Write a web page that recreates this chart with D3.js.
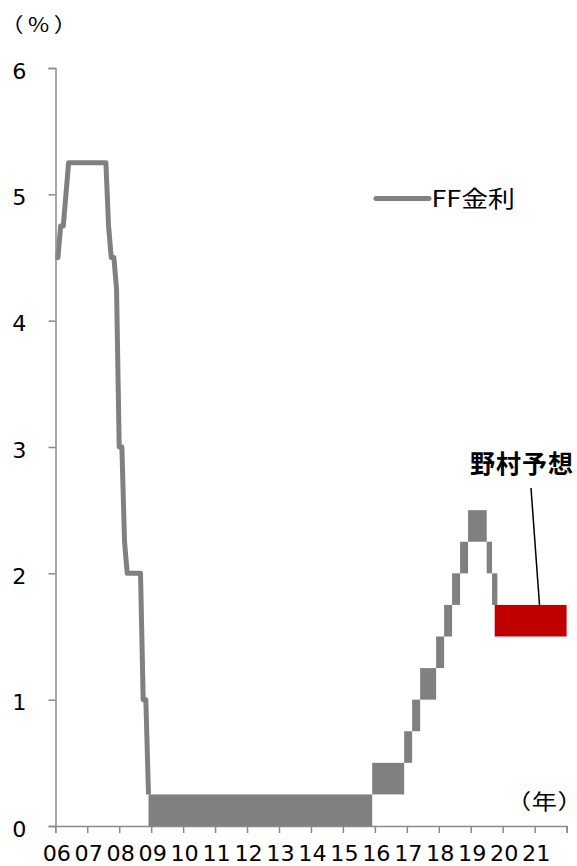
<!DOCTYPE html>
<html>
<head>
<meta charset="utf-8">
<script src="https://cdn.jsdelivr.net/npm/d3@7/dist/d3.min.js"></script>
<style>
  html, body { margin: 0; padding: 0; background: #fff; }
  svg { display: block; }
  text { font-family: "Noto Sans CJK JP", "Noto Sans", sans-serif; fill: #000; }
  .half { font-feature-settings: "halt" 1; }
</style>
</head>
<body>
<svg id="chart" width="577" height="866"></svg>
<script>
// FF target rate (upper bound), month-end, 2006-2008
const lineMonths = [
  "2006-01","2006-02","2006-03","2006-04","2006-05","2006-06","2006-07","2006-08","2006-09","2006-10","2006-11","2006-12",
  "2007-01","2007-02","2007-03","2007-04","2007-05","2007-06","2007-07","2007-08","2007-09","2007-10","2007-11","2007-12",
  "2008-01","2008-02","2008-03","2008-04","2008-05","2008-06","2008-07","2008-08","2008-09","2008-10","2008-11","2008-12"
];
const lineValues = [
  4.5, 4.5, 4.75, 4.75, 5.0, 5.25, 5.25, 5.25, 5.25, 5.25, 5.25, 5.25,
  5.25, 5.25, 5.25, 5.25, 5.25, 5.25, 5.25, 5.25, 4.75, 4.5, 4.5, 4.25,
  3.0, 3.0, 2.25, 2.0, 2.0, 2.0, 2.0, 2.0, 2.0, 1.0, 1.0, 0.25
];

// Target range periods (from month, until month)
const rangeStart = ["2008-12","2015-12","2016-12","2017-03","2017-06","2017-12","2018-03","2018-06","2018-09","2018-12","2019-07","2019-09"];
const rangeEnd   = ["2015-12","2016-12","2017-03","2017-06","2017-12","2018-03","2018-06","2018-09","2018-12","2019-07","2019-09","2019-11"];
const rangeLow   = [0, 0.25, 0.5, 0.75, 1.0, 1.25, 1.5, 1.75, 2.0, 2.25, 2.0, 1.75];
const rangeHigh  = [0.25, 0.5, 0.75, 1.0, 1.25, 1.5, 1.75, 2.0, 2.25, 2.5, 2.25, 2.0];

// Nomura forecast range
const forecastStart = "2019-10";
const forecastEnd   = "2022-01";
const forecastLow   = 1.5;
const forecastHigh  = 1.75;

// Axis ticks
const yearTicks = d3.range(2006, 2023);
const yearLabels = ["06","07","08","09","10","11","12","13","14","15","16","17","18","19","20","21",""];
const yTicks = [0, 1, 2, 3, 4, 5, 6];

const toYear = s => { const [y, m] = s.split("-").map(Number); return y + (m - 1) / 12; };

const svg = d3.select("#chart");
const x = d3.scaleLinear().domain([2006, 2022]).range([55.3, 566.6]);
const y = d3.scaleLinear().domain([0, 6]).range([826, 68]);

const GRAY = "#808080";
const AXIS = "#8a8a8a";
const WIDE = 1.15;            // horizontal stretch of the label type
const DIGITS = "'DejaVu Sans', sans-serif";

// target range blocks
const ranges = rangeStart.map((s, i) => ({ s: toYear(s), e: toYear(rangeEnd[i]), lo: rangeLow[i], hi: rangeHigh[i] }));
svg.append("g").selectAll("rect").data(ranges).join("rect")
  .attr("x", d => x(d.s))
  .attr("width", d => x(d.e) - x(d.s))
  .attr("y", d => y(d.hi))
  .attr("height", d => y(d.lo) - y(d.hi))
  .attr("fill", GRAY);

// forecast block
svg.append("rect")
  .attr("x", x(toYear(forecastStart)))
  .attr("width", x(toYear(forecastEnd)) - x(toYear(forecastStart)))
  .attr("y", y(forecastHigh))
  .attr("height", y(forecastLow) - y(forecastHigh))
  .attr("fill", "#c00000");

// FF rate line
const linePts = lineMonths.map((m, i) => [toYear(m), lineValues[i]]);
svg.append("path")
  .datum(linePts)
  .attr("fill", "none")
  .attr("stroke", GRAY)
  .attr("stroke-width", 5)
  .attr("stroke-linejoin", "round")
  .attr("d", d3.line().x(d => x(d[0])).y(d => y(d[1])));

// axes
const yAxis = svg.append("g")
  .attr("transform", "translate(55.5,0)")
  .call(d3.axisLeft(y).tickValues(yTicks).tickSize(7).tickFormat(d3.format("d")));
const xAxis = svg.append("g")
  .attr("transform", "translate(0,826)")
  .call(d3.axisBottom(x).tickValues(yearTicks).tickSize(7).tickFormat((d, i) => yearLabels[i]));

[yAxis, xAxis].forEach(g => {
  g.select(".domain").attr("stroke", AXIS).attr("stroke-width", 1.5);
  g.selectAll(".tick line").attr("stroke", AXIS).attr("stroke-width", 1.5);
  g.selectAll("text").attr("fill", "#000").style("font-family", DIGITS)
    .attr("x", 0).attr("y", 0).attr("dy", null);
});
yAxis.selectAll("text").attr("font-size", 21).attr("text-anchor", "end")
  .attr("transform", "translate(-29,10) scale(1.06,1)");
xAxis.selectAll("text").attr("font-size", 21).attr("text-anchor", "middle")
  .attr("transform", "translate(1,35) scale(1.06,1)");

// unit labels
svg.append("text").attr("transform", `translate(0.5,32) scale(${WIDE},1)`)
  .attr("font-size", 20).attr("letter-spacing", 4).text("（%）");
svg.append("text").attr("class", "half")
  .attr("transform", "translate(518.5,809) scale(1.2,1)")
  .attr("font-size", 21).attr("letter-spacing", 0.5).text("（年）");

// legend
svg.append("line")
  .attr("x1", 376).attr("x2", 429).attr("y1", 198.5).attr("y2", 198.5)
  .attr("stroke", GRAY).attr("stroke-width", 5).attr("stroke-linecap", "round");
svg.append("text").attr("transform", "translate(431.5,207) scale(1.17,1)")
  .attr("font-size", 23).text("FF金利");

// forecast annotation
svg.append("text").attr("x", 470).attr("y", 473).attr("font-size", 25)
  .attr("font-weight", "bold").attr("letter-spacing", 1).text("野村予想");
svg.append("line")
  .attr("x1", 531).attr("y1", 488).attr("x2", 539.5).attr("y2", y(forecastHigh))
  .attr("stroke", "#000").attr("stroke-width", 1.5);
</script>
</body>
</html>
